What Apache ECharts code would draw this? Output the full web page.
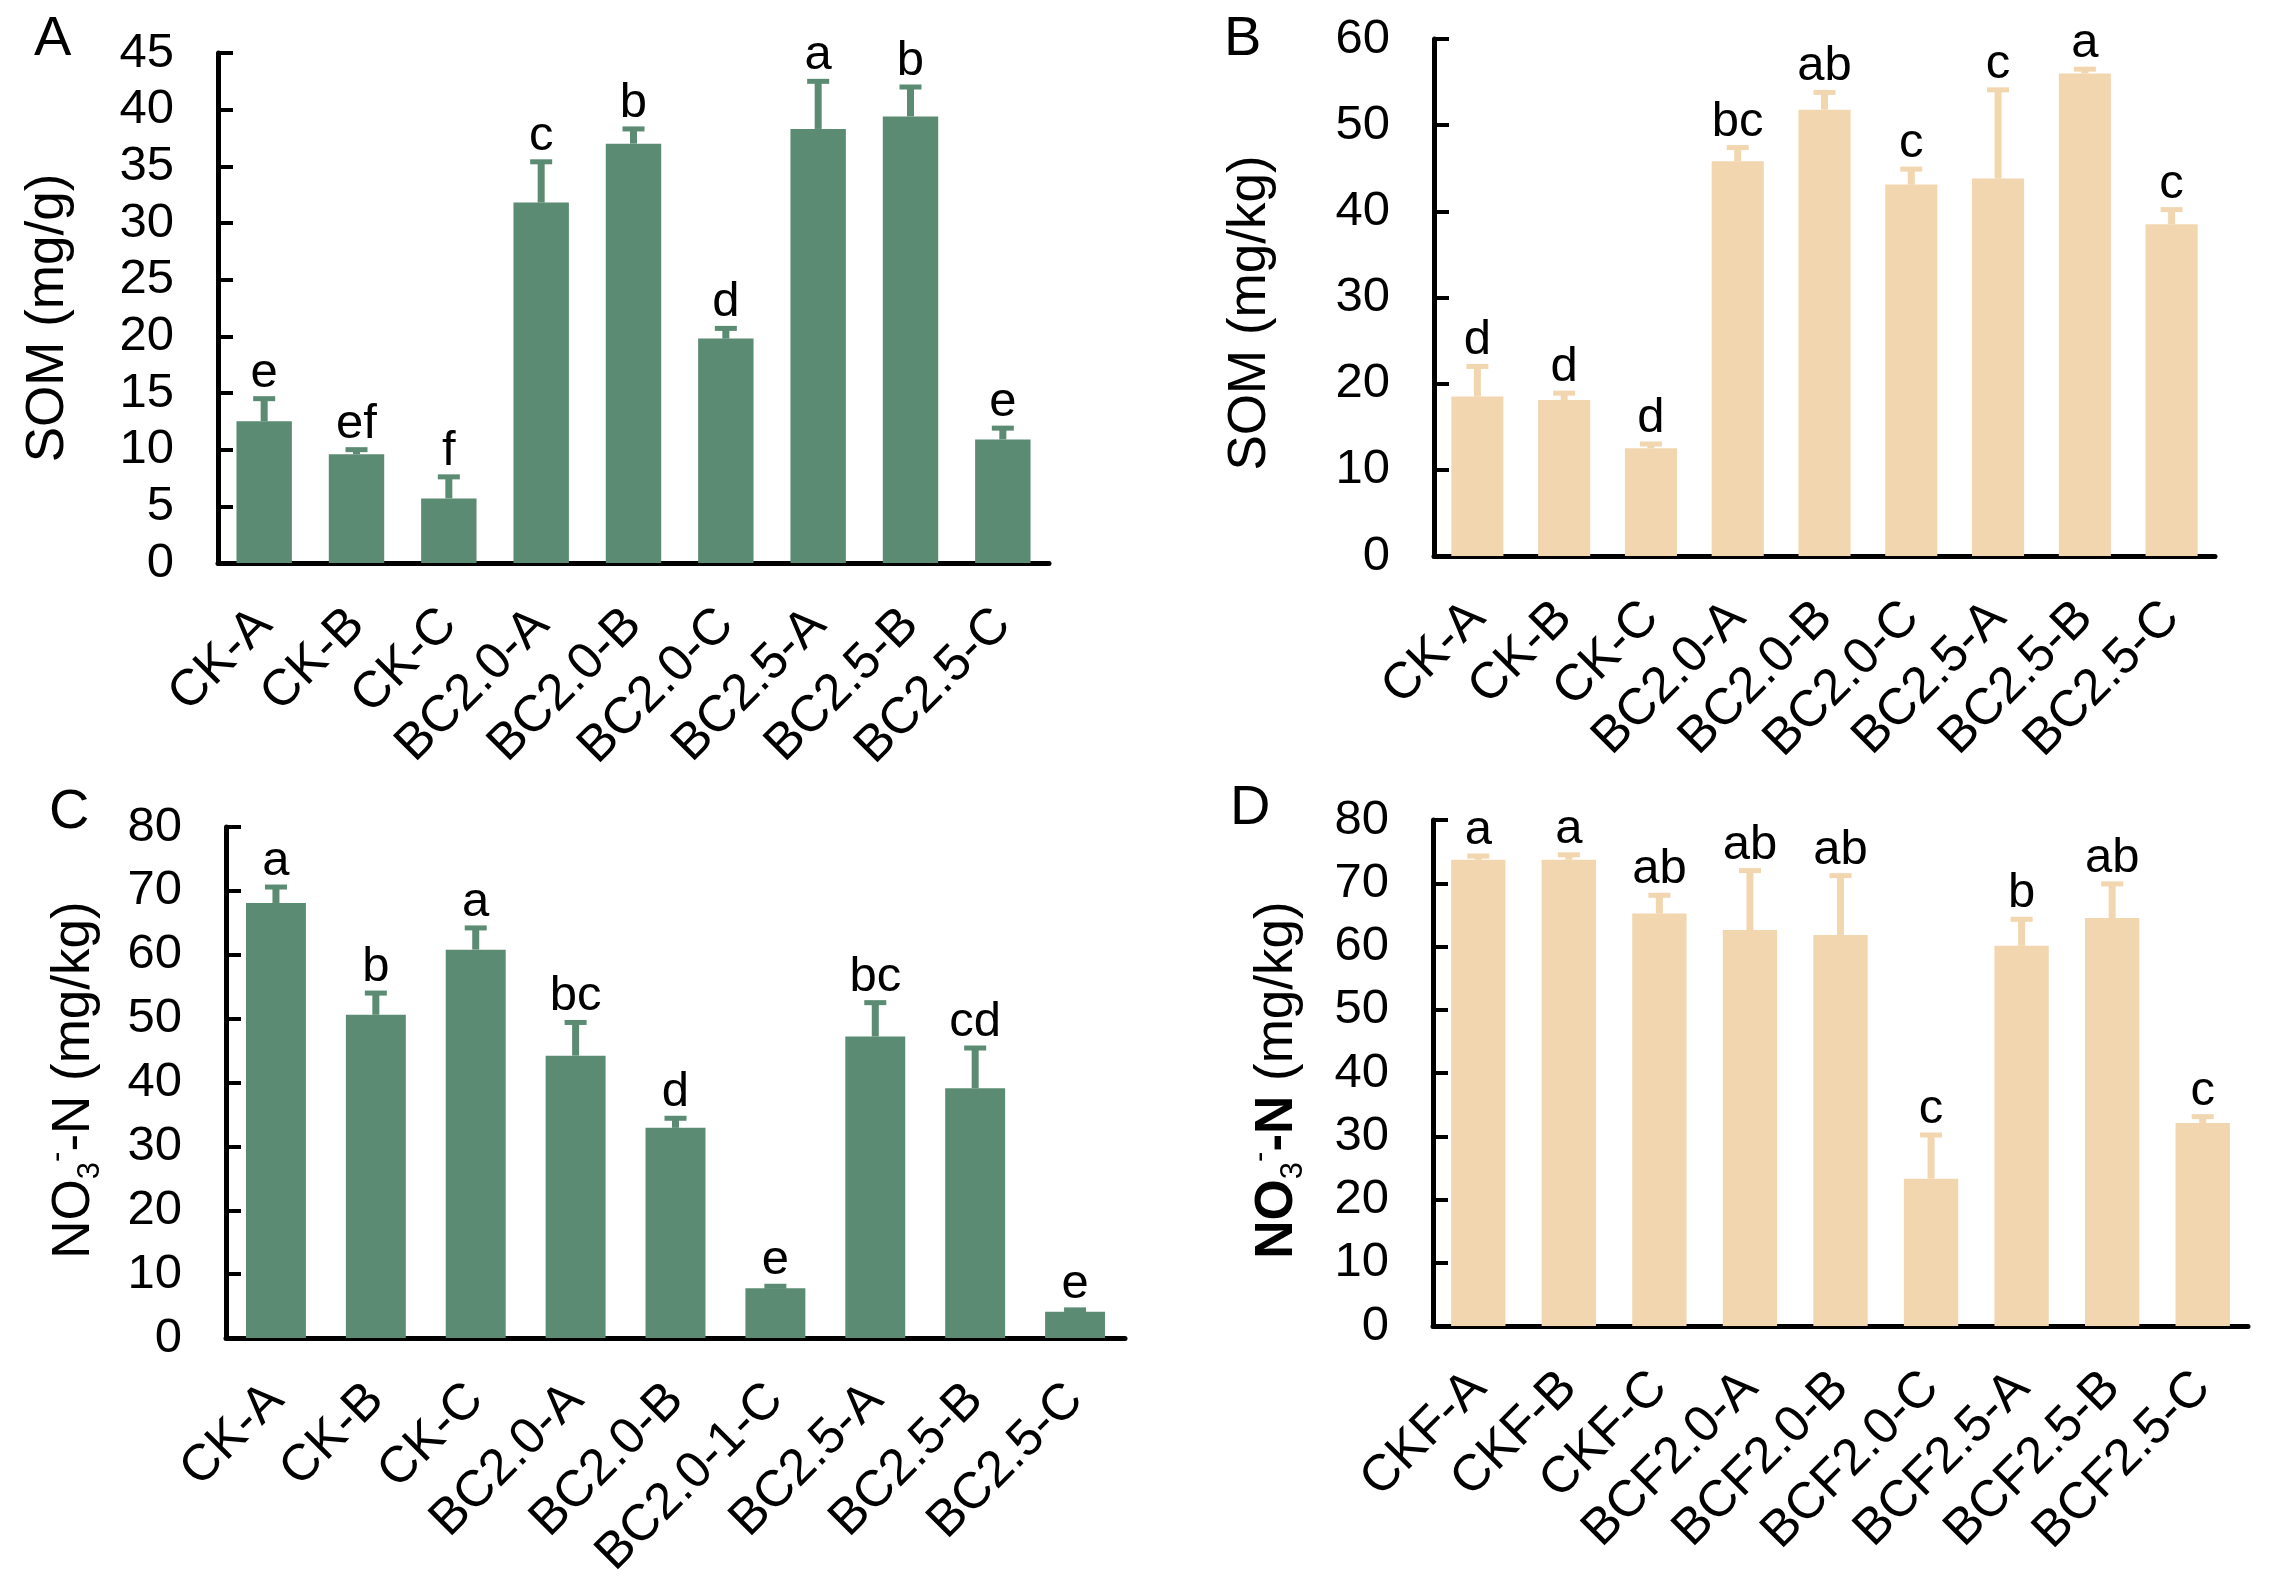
<!DOCTYPE html>
<html>
<head>
<meta charset="utf-8">
<script src="https://cdn.jsdelivr.net/npm/echarts@6/dist/echarts.min.js"></script>
<style>
html,body{margin:0;padding:0;background:#fff;}
#chart{width:2275px;height:1594px;}
</style>
</head>
<body>
<div id="chart"></div>
<script>
// ---------- data ----------
const catsAB = ['CK-A','CK-B','CK-C','BC2.0-A','BC2.0-B','BC2.0-C','BC2.5-A','BC2.5-B','BC2.5-C'];
const catsC  = ['CK-A','CK-B','CK-C','BC2.0-A','BC2.0-B','BC2.0-1-C','BC2.5-A','BC2.5-B','BC2.5-C'];
const catsD  = ['CKF-A','CKF-B','CKF-C','BCF2.0-A','BCF2.0-B','BCF2.0-C','BCF2.5-A','BCF2.5-B','BCF2.5-C'];

const somA     = [12.5, 9.6, 5.7, 31.8, 37.0, 19.8, 38.3, 39.4, 10.9];
const somAErr  = [2.0, 0.4, 1.9, 3.6, 1.3, 0.9, 4.2, 2.6, 1.0];
const somASig  = ['e','ef','f','c','b','d','a','b','e'];

const somB     = [18.5, 18.1, 12.5, 45.8, 51.8, 43.1, 43.8, 56.0, 38.5];
const somBErr  = [3.5, 0.8, 0.5, 1.6, 2.0, 1.8, 10.3, 0.5, 1.7];
const somBSig  = ['d','d','d','bc','ab','c','c','a','c'];

const no3C     = [68.1, 50.6, 60.8, 44.2, 32.9, 7.8, 47.2, 39.1, 4.1];
const no3CErr  = [2.5, 3.4, 3.4, 5.2, 1.5, 0.3, 5.3, 6.3, 0.3];
const no3CSig  = ['a','b','a','bc','d','e','bc','cd','e'];

const no3D     = [73.7, 73.7, 65.2, 62.6, 61.8, 23.3, 60.1, 64.5, 32.1];
const no3DErr  = [0.6, 0.8, 2.9, 9.4, 9.4, 6.9, 4.2, 5.4, 1.0];
const no3DSig  = ['a','a','ab','ab','ab','c','b','ab','c'];

const GREEN = '#5b8b72';
const PEACH = '#f2d6b0';
const FONT = 'Liberation Sans, Arial, sans-serif';

// ---------- build ----------
const grids = [
  {left:218,  top:53,  width:831, height:510},
  {left:1434, top:39,  width:781, height:517},
  {left:226,  top:827, width:899, height:511},
  {left:1433, top:820, width:815, height:506}
];
const panels = [
  {cats:catsAB, vals:somA, errs:somAErr, sig:somASig, color:GREEN, max:45, interval:5},
  {cats:catsAB, vals:somB, errs:somBErr, sig:somBSig, color:PEACH, max:60, interval:10},
  {cats:catsC,  vals:no3C, errs:no3CErr, sig:no3CSig, color:GREEN, max:80, interval:10},
  {cats:catsD,  vals:no3D, errs:no3DErr, sig:no3DSig, color:PEACH, max:80, interval:10}
];

const xAxes = [], yAxes = [], series = [];
panels.forEach((p, i) => {
  xAxes.push({
    type:'category', gridIndex:i, data:p.cats,
    axisLine:{lineStyle:{color:'#000', width:5}},
    axisTick:{show:false},
    axisLabel:{rotate:45, interval:0, fontSize:51, color:'#000', fontFamily:FONT, margin:54}
  });
  yAxes.push({
    type:'value', gridIndex:i, min:0, max:p.max, interval:p.interval,
    axisLine:{show:true, lineStyle:{color:'#000', width:5}},
    axisTick:{show:true, inside:true, length:15, lineStyle:{color:'#000', width:4}},
    splitLine:{show:false},
    axisLabel:{fontSize:49, color:'#000', fontFamily:FONT, margin:44}
  });
  series.push({
    type:'bar', xAxisIndex:i, yAxisIndex:i, data:p.vals, barWidth:'60%',
    itemStyle:{color:p.color}, silent:true
  });
  const color = p.color, sig = p.sig;
  series.push({
    type:'custom', xAxisIndex:i, yAxisIndex:i, z:5, silent:true,
    data:p.vals.map((v,k)=>[k, v, v + p.errs[k]]),
    renderItem:function(params, api){
      const k = api.value(0);
      const base = api.coord([k, api.value(1)]);
      const top = api.coord([k, api.value(2)]);
      const x = base[0];
      return {
        type:'group',
        children:[
          {type:'line', shape:{x1:x, y1:base[1], x2:x, y2:top[1]}, style:{stroke:color, lineWidth:7}},
          {type:'line', shape:{x1:x-11, y1:top[1], x2:x+11, y2:top[1]}, style:{stroke:color, lineWidth:5}},
          {type:'text', x:x, y:top[1]-1, style:{text:sig[k], textAlign:'center', textVerticalAlign:'bottom', font:'49px ' + FONT, fill:'#000'}}
        ]
      };
    }
  });
});

function yTitle(x, y, text, rich){
  return {type:'text', x:x, y:y, rotation:Math.PI/2,
    style:{text:text, rich:rich, textAlign:'center', textVerticalAlign:'middle', font:'53px ' + FONT, fill:'#000'}};
}
const richN = {
  n:{fontSize:53, fontFamily:FONT, color:'#000', lineHeight:64},
  nb:{fontSize:53, fontFamily:FONT, color:'#000', fontWeight:'bold', lineHeight:64},
  sub:{fontSize:31, fontFamily:FONT, color:'#000', lineHeight:24, verticalAlign:'bottom'},
  sup:{fontSize:31, fontFamily:FONT, color:'#000', lineHeight:24, verticalAlign:'top'}
};
function panelLetter(x, y, t){
  return {type:'text', x:x, y:y, style:{text:t, font:'56px ' + FONT, fill:'#000', textAlign:'left', textVerticalAlign:'top'}};
}

const graphic = [
  panelLetter(34, 12, 'A'), panelLetter(1224, 12, 'B'), panelLetter(49, 785, 'C'), panelLetter(1230, 781, 'D'),
  yTitle(48, 318, 'SOM (mg/g)'),
  yTitle(1250, 313, 'SOM (mg/kg)'),
  yTitle(74, 1080, '{n|NO}{sub|3}{sup|-}{n|-N (mg/kg)}', richN),
  yTitle(1277, 1080, '{nb|NO}{sub|3}{sup|-}{nb|-N} {n|(mg/kg)}', richN)
];

const chart = echarts.init(document.getElementById('chart'), null, {renderer:'canvas'});
chart.setOption({
  animation:false,
  backgroundColor:'#fff',
  textStyle:{fontFamily:FONT},
  grid:grids,
  xAxis:xAxes,
  yAxis:yAxes,
  series:series,
  graphic:graphic
});
</script>
</body>
</html>
